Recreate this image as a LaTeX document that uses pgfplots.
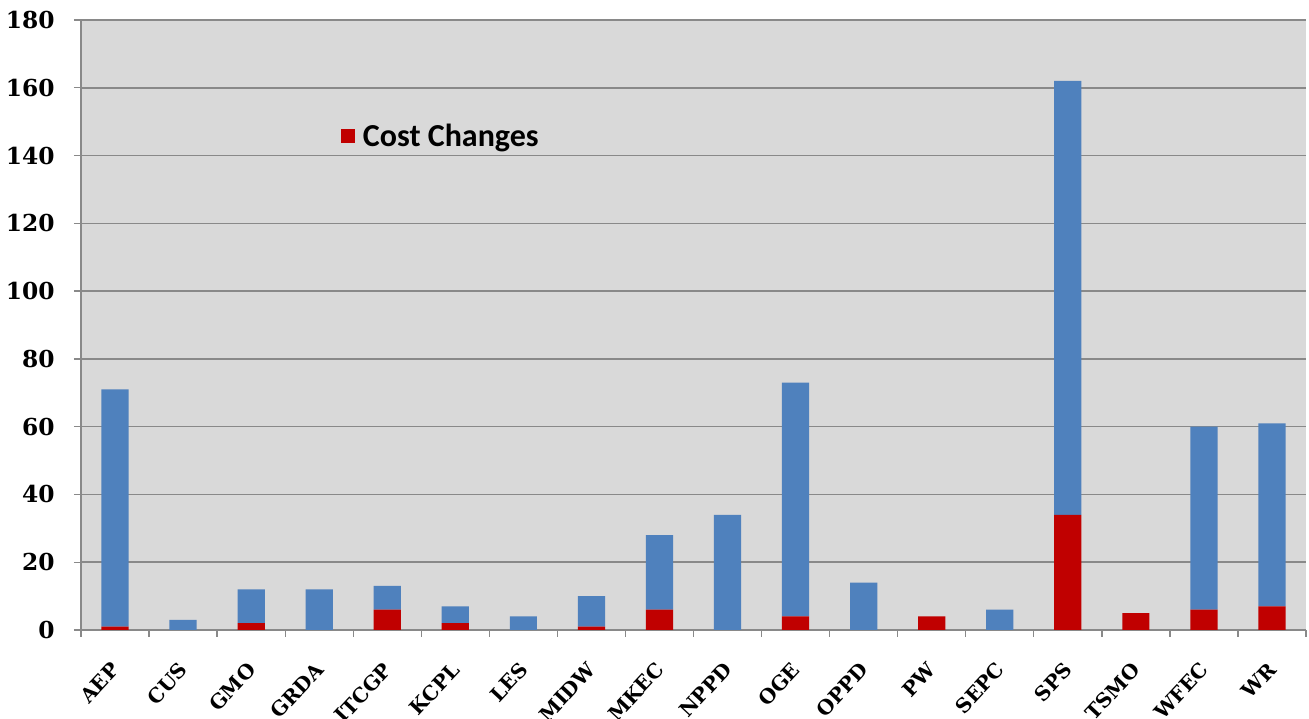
\documentclass[border=0pt]{standalone}
\usepackage{fontspec}
\setmainfont{Carlito}
\newfontfamily\yfont{DejaVu Serif}
\usepackage{pgfplots}
\pgfplotsset{compat=1.18}
\definecolor{bgc}{RGB}{217,217,217}
\definecolor{gridc}{RGB}{137,137,137}
\definecolor{barblue}{RGB}{79,129,189}
\definecolor{barred}{RGB}{192,0,0}
\begin{document}
\begin{tikzpicture}
\begin{axis}[
  name=ax,
  scale only axis,
  width=918.75pt, height=457.5pt,
  ybar stacked,
  bar width=0.4,
  xmin=-0.5, xmax=17.5,
  ymin=0, ymax=180,
  ytick={0,20,...,180},
  xtick={0,...,17},
  xticklabels={AEP,CUS,GMO,GRDA,ITCGP,KCPL,LES,MIDW,MKEC,NPPD,OGE,OPPD,PW,SEPC,SPS,TSMO,WFEC,WR},
  minor xtick={-0.5,0.5,...,17.5},
  major tick length=5.25pt,
  minor tick length=5.25pt,
  xtick style={draw=none},
  minor x tick style={draw=gridc, line width=1pt},
  ytick style={draw=gridc, line width=1pt},
  tick align=outside,
  axis x line*=bottom,
  axis y line*=left,
  axis line style={draw=gridc, line width=1.2pt, -},
  axis background/.style={fill=bgc},
  ymajorgrids,
  grid style={draw=gridc, line width=1.1pt},
  /pgf/number format/assume math mode=true,
  yticklabel style={font=\yfont\bfseries\fontsize{17.5}{17.5}\selectfont, xshift=-11pt},
  xticklabel style={font=\yfont\bfseries\fontsize{15}{15}\selectfont, xshift=-4pt, yshift=-13pt, rotate=47, anchor=north east},
  legend style={at={(0.212,0.81)}, anchor=west, draw=none, fill=none,
    font=\bfseries\fontsize{24}{24}\selectfont, inner sep=0pt,
    /tikz/every odd column/.append style={column sep=4pt}},
  legend image code/.code={\fill[#1] (0pt,-5.25pt) rectangle (10.5pt,5.25pt);},
  legend cell align=left,
]
\addplot[fill=barred, draw=none] coordinates {
(0,1) (1,0) (2,2) (3,0) (4,6) (5,2) (6,0) (7,1) (8,6) (9,0)
(10,4) (11,0) (12,4) (13,0) (14,34) (15,5) (16,6) (17,7)};
\addplot[fill=barblue, draw=none] coordinates {
(0,70) (1,3) (2,10) (3,12) (4,7) (5,5) (6,4) (7,9) (8,22) (9,34)
(10,69) (11,14) (12,0) (13,6) (14,128) (15,0) (16,54) (17,54)};
\legend{Cost Changes}
\end{axis}
\pgfresetboundingbox
\path ([xshift=-60.75pt,yshift=-66.75pt]ax.south west) rectangle ([xshift=2.25pt,yshift=15pt]ax.north east);
\end{tikzpicture}
\end{document}
